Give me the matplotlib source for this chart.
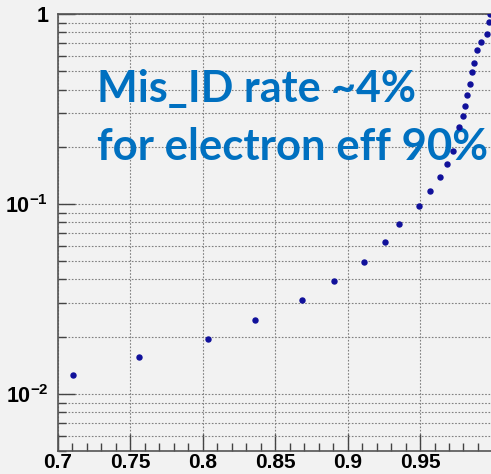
import numpy as np
import matplotlib
matplotlib.use("Agg")
import matplotlib.pyplot as plt
from matplotlib.ticker import FixedLocator, NullFormatter

# electron efficiency vs mis-ID rate
eff = [0.7104, 0.7559, 0.8036, 0.8358, 0.8687, 0.8904, 0.9111, 0.9256,
       0.9357, 0.9493, 0.9571, 0.9638, 0.9684, 0.9726, 0.9771, 0.9795,
       0.9813, 0.9827, 0.9845, 0.9861, 0.9875, 0.9894, 0.9919, 0.9963,
       0.9979, 0.9986]
misid = [0.01259, 0.01564, 0.01944, 0.02445, 0.03114, 0.03935, 0.04948,
         0.06302, 0.07806, 0.09737, 0.1163, 0.1382, 0.1627, 0.1893,
         0.2530, 0.2889, 0.3262, 0.3725, 0.4255, 0.4943, 0.5551, 0.6471,
         0.7129, 0.7882, 0.9046, 0.9964]

xticks = [0.7, 0.75, 0.8, 0.85, 0.9, 0.95, 1.0]
xticklabels = ["0.7", "0.75", "0.8", "0.85", "0.9", "0.95", "1"]
yticks = [1e-2, 1e-1, 1]
yticklabels = [r"$\mathbf{10^{-2}}$", r"$\mathbf{10^{-1}}$", "1"]

plt.rcParams["font.family"] = ["Liberation Sans", "DejaVu Sans"]
plt.rcParams["mathtext.fontset"] = "custom"
plt.rcParams["mathtext.bf"] = "Liberation Sans:bold"
plt.rcParams["mathtext.rm"] = "Liberation Sans"

bg = "#f2f2f2"
fig = plt.figure(figsize=(4.91, 4.74), dpi=100, facecolor=bg)
ax = fig.add_axes([58 / 491, 23 / 474, 1 - 58 / 491, (451 - 14) / 474])
ax.set_facecolor(bg)

ax.plot(eff, misid, "o", color="#10109a", markersize=3.6, zorder=5)

ax.set_yscale("log")
ax.set_xlim(0.7, 0.999)
ax.set_ylim(0.005, 1.0)

ax.xaxis.set_major_locator(FixedLocator(xticks))
ax.set_xticklabels(xticklabels, fontsize=15, fontweight="bold")
ax.xaxis.set_minor_locator(FixedLocator(np.arange(0.7, 1.0, 0.01)))
ax.yaxis.set_major_locator(FixedLocator(yticks))
ax.set_yticklabels(yticklabels, fontsize=15.5, fontweight="bold")
ax.yaxis.set_minor_formatter(NullFormatter())

ax.tick_params(which="both", direction="in", colors="#444444",
               labelcolor="black", top=False, right=False)
ax.tick_params(which="major", length=12, width=1.0)
ax.tick_params(which="minor", length=6, width=1.0)
ax.tick_params(axis="x", which="major", pad=1.5)
ax.tick_params(axis="y", which="major", pad=7)

ax.grid(True, which="major", axis="x", color="#808080", linestyle=(0, (1.5, 1.5)), linewidth=0.8)
ax.grid(True, which="both", axis="y", color="#808080", linestyle=(0, (1.5, 1.5)), linewidth=0.8)

for side in ["left", "bottom", "top"]:
    ax.spines[side].set_color("#555555")
    ax.spines[side].set_linewidth(1.2)
ax.spines["right"].set_visible(False)

ax.text(97 / 491, 1 - 102 / 474, "Mis_ID rate ~4%", transform=fig.transFigure,
        fontsize=31, fontweight="bold", color="#0070c0", family="Lato",
        va="baseline", ha="left", zorder=3)
ax.text(97 / 491, 1 - 160 / 474, "for electron eff 90%", transform=fig.transFigure,
        fontsize=31.5, fontweight="bold", color="#0070c0", family="Lato",
        va="baseline", ha="left", zorder=3)

fig.savefig("out.png", dpi=100, facecolor=bg)
